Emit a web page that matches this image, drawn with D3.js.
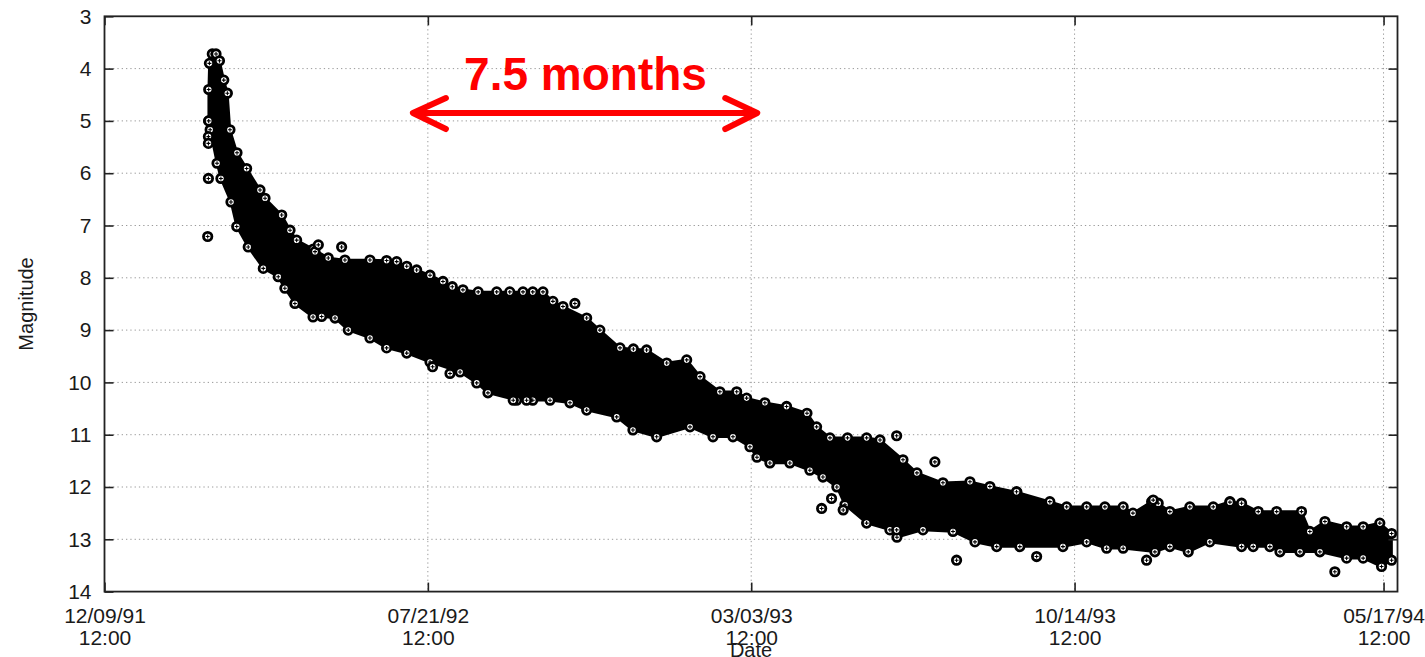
<!DOCTYPE html>
<html>
<head>
<meta charset="utf-8">
<script src="https://cdn.jsdelivr.net/npm/d3@7"></script>
<style>
  html, body { margin: 0; padding: 0; background: #fff; }
  svg { display: block; }
  text { font-family: "Liberation Sans", Arial, Helvetica, sans-serif; }
</style>
</head>
<body>
<svg id="chart" width="1425" height="657"></svg>
<script>
// Light curve of the nova: days after 12/09/91 12:00 and visual magnitude.

// x-axis tick labels (date / time)
const tickLabels = ["12/09/91 12:00", "07/21/92 12:00", "03/03/93 12:00", "10/14/93 12:00", "05/17/94 12:00"];
const magTicks = [3, 4, 5, 6, 7, 8, 9, 10, 11, 12, 13, 14];
const lastDay = 899.7;

// brightest observations along the dense band (days, magnitude)
const upperDay = [72.5, 72.5, 73.0, 75.0, 77.6, 80.0, 83.0, 85.5, 87.3, 92.2, 98.9, 108.2, 111.7, 123.3, 129.1, 133.7,
  145.3, 155.7, 167.3, 184.7, 196.3, 203.3, 210.3, 217.2, 226.5, 235.5, 242.0, 249.4, 260.0, 272.9, 282.0, 291.2,
  298.0, 305.1, 312.0, 319.0, 335.5, 344.7, 358.7, 368.0, 377.2, 391.2, 405.1, 414.4, 428.2, 439.9, 446.8, 459.5,
  474.6, 488.8, 495.5, 504.8, 517.0, 530.3, 539.6, 555.6, 565.3, 583.4, 602.2, 616.1, 634.9, 657.8, 669.5, 683.4,
  696.1, 708.8, 715.6, 728.6, 733.2, 741.3, 755.2, 771.5, 783.1, 791.2, 802.8, 815.6, 832.9, 838.7, 849.2, 864.3,
  875.8, 887.4, 895.6];
const upperMag = [5.00, 4.40, 3.90, 3.72, 3.72, 3.85, 4.22, 4.47, 5.17, 5.61, 5.91, 6.32, 6.48, 6.80, 7.09, 7.28,
  7.45, 7.62, 7.66, 7.66, 7.67, 7.69, 7.78, 7.85, 7.95, 8.07, 8.17, 8.23, 8.27, 8.27, 8.27, 8.27,
  8.27, 8.27, 8.45, 8.55, 8.77, 9.00, 9.34, 9.36, 9.38, 9.63, 9.57, 9.89, 10.18, 10.18, 10.30, 10.39,
  10.46, 10.59, 10.85, 11.06, 11.06, 11.06, 11.10, 11.48, 11.73, 11.92, 11.90, 11.99, 12.10, 12.28, 12.38, 12.38,
  12.38, 12.38, 12.50, 12.28, 12.31, 12.47, 12.38, 12.38, 12.28, 12.31, 12.47, 12.47, 12.47, 12.85, 12.66, 12.76,
  12.76, 12.69, 12.89];

// faintest observations along the dense band (days, magnitude)
const lowerDay = [72.5, 73.5, 78.3, 81.0, 88.0, 92.0, 100.0, 110.5, 120.9, 125.5, 132.5, 145.1, 151.1, 160.4, 169.6,
  184.7, 196.3, 210.3, 226.5, 247.4, 259.0, 266.8, 286.8, 298.0, 310.0, 323.9, 335.5, 356.4, 367.7, 384.2, 407.4,
  423.4, 437.3, 449.1, 454.0, 463.0, 476.9, 490.8, 499.9, 509.6, 515.2, 530.3, 546.5, 551.4, 569.5, 590.4, 605.7,
  620.8, 636.9, 666.9, 683.4, 697.3, 708.8, 730.9, 741.3, 754.1, 769.1, 791.2, 799.3, 810.9, 817.9, 831.8, 845.7,
  864.3, 875.8, 888.6, 895.6];
const lowerMag = [5.00, 5.17, 5.81, 6.10, 6.55, 7.02, 7.41, 7.82, 7.98, 8.20, 8.49, 8.75, 8.74, 8.77, 9.00,
  9.15, 9.34, 9.44, 9.61, 9.80, 10.01, 10.20, 10.34, 10.34, 10.34, 10.39, 10.53, 10.66, 10.91, 11.04, 10.85,
  11.04, 11.04, 11.23, 11.43, 11.54, 11.54, 11.68, 11.81, 12.00, 12.34, 12.69, 12.82, 12.96, 12.82, 12.85, 13.05,
  13.14, 13.14, 13.14, 13.05, 13.17, 13.17, 13.24, 13.14, 13.24, 13.05, 13.14, 13.14, 13.14, 13.24, 13.24, 13.24,
  13.36, 13.36, 13.52, 13.40];

// isolated observations away from the band (days, magnitude)
const loneDay = [72.3, 72.3, 72.3, 71.8, 146.5, 148.8, 165.0, 228.3, 240.4, 284.4, 293.7, 327.3,
  499.0, 505.9, 514.0, 551.2, 551.2, 577.8, 592.9, 634.6, 648.6, 725.1, 729.7, 783.1, 856.1];
const loneMag = [5.30, 5.43, 6.10, 7.21, 7.50, 7.37, 7.41, 9.70, 9.83, 10.34, 10.34, 8.49,
  12.41, 12.22, 12.44, 11.02, 12.82, 11.52, 13.40, 12.09, 13.33, 13.40, 12.25, 12.29, 13.62];

// annotation: span marked with a double arrow
const spanDays = [214.6, 454.2];
const spanMag = 4.85;
const spanText = "7.5 months";
const spanTextDay = 334.7, spanTextMag = 4.41;

const parseTick = d3.utcParse("%m/%d/%y %H:%M");
const tickDates = tickLabels.map(parseTick);
const t0 = tickDates[0];
const toDate = day => new Date(t0.getTime() + day * 864e5);

const L = 104.5, R = 1397.5, T = 16.3, B = 591.6;
const svg = d3.select("#chart");

const x = d3.scaleUtc().domain([t0, toDate(lastDay)]).range([L, R]);
const y = d3.scaleLinear().domain([3, 14]).range([T, B]);

// grid
const grid = svg.append("g").attr("stroke", "#9a9a9a").attr("stroke-width", 1).attr("stroke-dasharray", "1.3,3");
grid.selectAll("line.gy").data(magTicks.filter(m => m > 3 && m < 14)).join("line")
  .attr("x1", L).attr("x2", R).attr("y1", d => y(d)).attr("y2", d => y(d));
grid.selectAll("line.gx").data(tickDates.slice(1)).join("line")
  .attr("x1", d => x(d)).attr("x2", d => x(d)).attr("y1", T).attr("y2", B);

// dense band of observations
const toPt = (days, mags) => days.map((d, i) => [x(toDate(d)), y(mags[i])]);
const upperPts = toPt(upperDay, upperMag);
const lowerPts = toPt(lowerDay, lowerMag);
const bandPoly = upperPts.concat(lowerPts.slice().reverse());
svg.append("path")
  .attr("d", d3.line()(bandPoly) + "Z")
  .attr("fill", "#000").attr("stroke", "#000").attr("stroke-width", 2.5).attr("stroke-linejoin", "round");

// point markers: thick ring with a small cross
const plot = svg.append("g");
function addMarkers(pts) {
  const g = plot.append("g").selectAll("g").data(pts).join("g")
    .attr("transform", d => `translate(${d[0]},${d[1]})`);
  g.append("circle").attr("r", 4.2).attr("fill", "#fff").attr("stroke", "#000").attr("stroke-width", 2.8);
  g.append("path").attr("d", "M-2,0H2M0,-2V2").attr("stroke", "#000").attr("stroke-width", 1.1);
}
addMarkers(upperPts);
addMarkers(lowerPts);
addMarkers(toPt(loneDay, loneMag));

// axes (ticks point inward, mirrored on top and right)
const yAxis = d3.axisLeft(y).tickValues(magTicks).tickSizeInner(-9).tickSizeOuter(0).tickPadding(13).tickFormat(d3.format("d"));
const yAxisR = d3.axisRight(y).tickValues(magTicks.filter(m => m > 3 && m < 14)).tickSizeInner(-9).tickSizeOuter(0).tickFormat("");
const xAxis = d3.axisBottom(x).tickValues(tickDates).tickSizeInner(-9).tickSizeOuter(0).tickFormat("");
const xAxisT = d3.axisTop(x).tickValues(tickDates).tickSizeInner(-9).tickSizeOuter(0).tickFormat("");

function styleAxis(g) {
  g.select(".domain").remove();
  g.selectAll(".tick line").attr("stroke", "#222").attr("stroke-width", 1.6);
  g.selectAll("text").attr("fill", "#1a1a1a").attr("font-size", 21).attr("font-family", "Liberation Sans, Arial, sans-serif");
}
svg.append("g").attr("transform", `translate(${L},0)`).call(yAxis).call(styleAxis);
svg.append("g").attr("transform", `translate(${R},0)`).call(yAxisR).call(styleAxis);
svg.append("g").attr("transform", `translate(0,${T})`).call(xAxisT).call(styleAxis);
const gx = svg.append("g").attr("transform", `translate(0,${B})`).call(xAxis).call(styleAxis);

// two-line date labels under the bottom ticks
gx.selectAll(".tick").each(function (d, i) {
  const parts = tickLabels[i].split(" ");
  const t = d3.select(this).append("text")
    .attr("text-anchor", "middle").attr("fill", "#1a1a1a").attr("font-size", 21)
    .attr("font-family", "Liberation Sans, Arial, sans-serif");
  t.append("tspan").attr("x", 0).attr("y", 31.5).text(parts[0]);
  t.append("tspan").attr("x", 0).attr("y", 53.5).text(parts[1]);
});

// frame
svg.append("rect").attr("x", L).attr("y", T).attr("width", R - L).attr("height", B - T)
  .attr("fill", "none").attr("stroke", "#222").attr("stroke-width", 1.8);

// axis titles
svg.append("text").attr("x", (L + R) / 2).attr("y", 657).attr("text-anchor", "middle")
  .attr("font-size", 20).attr("fill", "#1a1a1a").text("Date");
svg.append("text").attr("transform", `translate(33,${(T + B) / 2}) rotate(-90)`).attr("text-anchor", "middle")
  .attr("font-size", 20).attr("fill", "#1a1a1a").text("Magnitude");

// annotation arrow
const ax1 = x(toDate(spanDays[0])), ax2 = x(toDate(spanDays[1])), ay = y(spanMag);
const ann = svg.append("g").attr("stroke", "#ff0000").attr("stroke-width", 6).attr("stroke-linecap", "round")
  .attr("stroke-linejoin", "round").attr("fill", "none");
ann.append("path").attr("d", d3.line()([[ax1 + 3, ay], [ax2 - 3, ay]]));
ann.append("path").attr("d", d3.line()([[ax1 + 33, ay - 15], [ax1, ay], [ax1 + 33, ay + 16]]));
ann.append("path").attr("d", d3.line()([[ax2 - 32, ay - 15], [ax2, ay], [ax2 - 32, ay + 16]]));
svg.append("text").attr("x", x(toDate(spanTextDay))).attr("y", y(spanTextMag))
  .attr("text-anchor", "middle").attr("font-size", 46).attr("font-weight", "bold")
  .attr("fill", "#ff0000").text(spanText);
</script>
</body>
</html>
